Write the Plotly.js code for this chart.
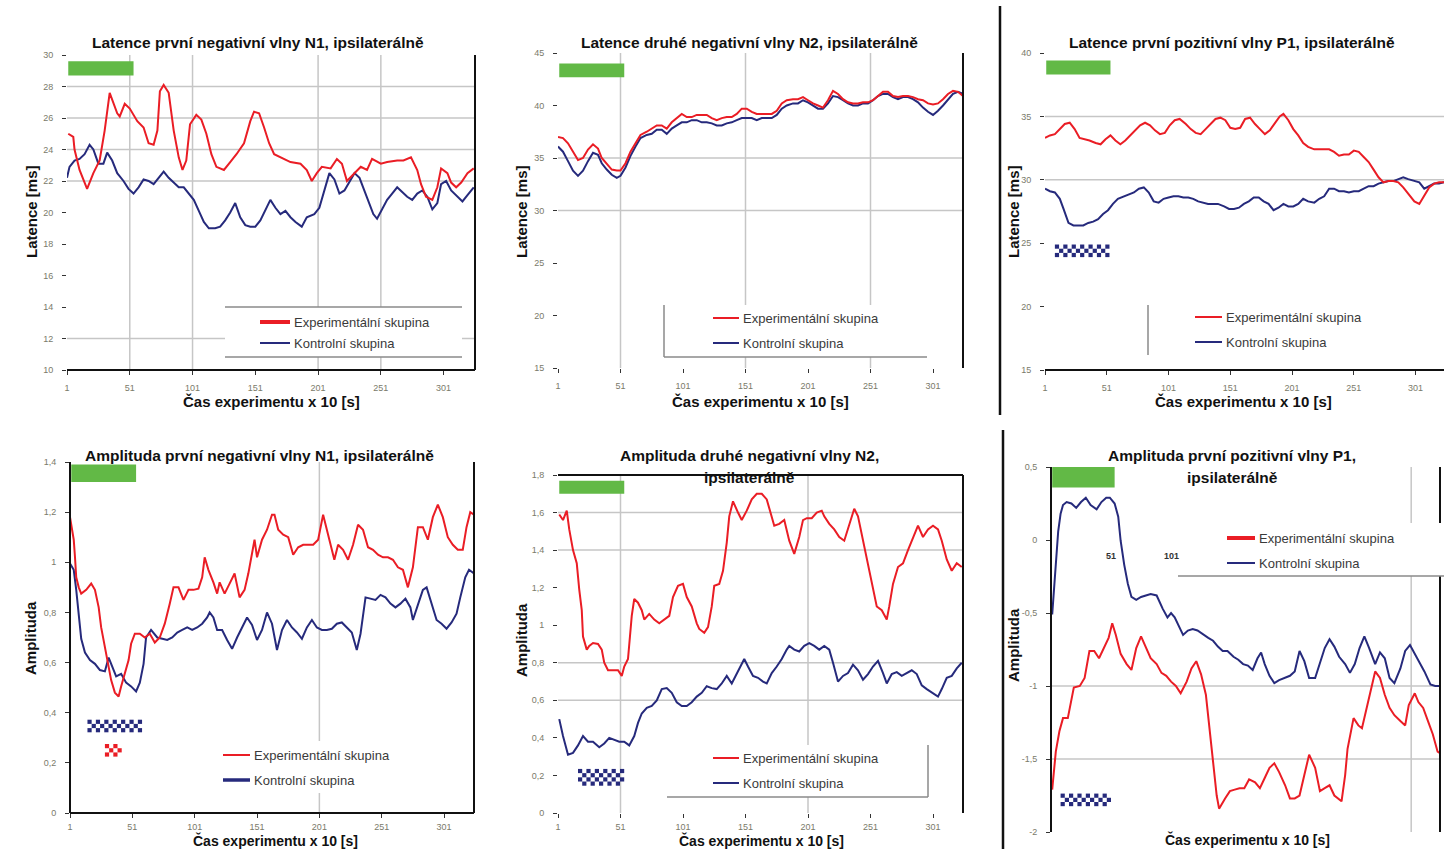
<!DOCTYPE html>
<html>
<head>
<meta charset="utf-8">
<script src="https://cdn.plot.ly/plotly-3.0.1.min.js"></script>
<style>
  html, body { margin: 0; padding: 0; background: #fff; }
  #plot { width: 1444px; height: 849px; }
</style>
</head>
<body>
<div id="plot"></div>
<script>
// ---- shared labels ----
const xTickVals = [1, 51, 101, 151, 201, 251, 301];
const xTickText = ['1', '51', '101', '151', '201', '251', '301'];
const legendLabels = ['Experimentální skupina', 'Kontrolní skupina'];
const xTitle = 'Čas experimentu x 10 [s]';
const stimRange = [2, 54];   // stimulation period (green bar)

// ---- latence N1 ----
const latN1Ticks = [10, 12, 14, 16, 18, 20, 22, 24, 26, 28, 30];
const latN1ExpX = [2,6,7,11,17,22,27,31,35,38,41,43,47,51,57,62,66,70,73,75,78,82,86,90,93,96,99,104,108,112,116,120,126,131,136,142,147,150,154,158,162,166,174,179,187,192,196,200,204,211,216,220,224,230,235,240,244,251,256,264,269,275,280,283,287,292,296,299,304,307,311,315,320,325];
const latN1ExpY = [25.0,24.8,24.0,22.7,21.5,22.5,23.3,25.2,27.6,27.0,26.3,26.1,26.9,26.6,25.8,25.4,24.4,24.3,25.2,27.7,28.1,27.6,25.2,23.5,22.7,23.3,25.6,26.2,25.9,25.0,23.7,22.9,22.7,23.2,23.7,24.4,25.8,26.4,26.3,25.4,24.4,23.7,23.4,23.2,23.1,22.7,22.0,22.5,22.9,22.8,23.4,23.1,22.0,22.5,22.9,22.7,23.4,23.1,23.2,23.3,23.3,23.5,22.7,21.8,21.0,20.8,21.6,22.8,22.5,21.9,21.6,21.9,22.5,22.8];
const latN1CtlX = [1,3,7,11,15,19,22,26,30,33,37,41,46,50,54,58,62,66,70,74,78,82,86,90,94,98,102,106,110,114,119,123,127,131,135,139,143,147,151,155,159,163,167,171,175,179,183,188,192,198,202,206,210,214,218,222,226,230,234,238,242,245,248,252,256,260,264,268,272,276,280,284,288,292,296,299,303,307,312,316,320,325];
const latN1CtlY = [22.2,22.9,23.3,23.4,23.7,24.3,24.0,23.1,23.1,23.8,23.3,22.5,22.0,21.5,21.2,21.6,22.1,22.0,21.8,22.2,22.6,22.2,21.9,21.6,21.6,21.2,20.8,20.1,19.4,19.0,19.0,19.1,19.5,20.0,20.6,19.7,19.2,19.1,19.1,19.5,20.1,20.8,20.3,19.9,20.1,19.7,19.4,19.1,19.7,19.9,20.3,21.4,22.5,22.1,21.2,21.4,22.0,22.5,22.2,21.4,20.6,19.9,19.6,20.2,20.8,21.2,21.6,21.3,21.0,20.8,21.2,21.4,21.0,20.2,20.6,21.8,22.0,21.4,21.0,20.7,21.1,21.6];

// ---- latence N2 ----
const latN2Ticks = [15, 20, 25, 30, 35, 40, 45];
const latN2X = [1,5,9,13,17,21,25,29,33,36,40,44,48,51,55,59,63,67,72,76,80,84,88,92,96,100,104,108,112,116,120,124,128,132,136,140,144,148,152,156,160,164,168,172,176,180,184,189,193,197,201,205,209,213,217,221,225,229,233,237,241,245,249,253,257,261,265,269,273,277,281,285,289,293,297,301,305,309,313,317,321,325];
const latN2ExpY = [37.0,36.9,36.4,35.6,34.8,35.0,35.8,36.3,35.9,35.0,34.4,33.9,33.8,33.8,34.5,35.6,36.4,37.2,37.5,37.8,38.1,38.1,37.8,38.4,38.8,39.2,38.9,38.9,39.1,39.1,39.1,38.8,38.6,38.8,38.9,38.9,39.2,39.7,39.7,39.4,39.2,39.2,39.2,39.2,39.5,40.2,40.5,40.6,40.6,40.8,40.5,40.2,40.0,39.8,40.5,41.4,41.1,40.6,40.3,40.2,40.2,40.3,40.3,40.5,40.9,41.3,41.3,40.9,40.8,40.9,40.9,40.8,40.6,40.5,40.2,40.1,40.2,40.6,41.1,41.4,41.3,40.9];
const latN2CtlY = [36.1,35.6,34.7,33.8,33.3,33.8,34.7,35.5,35.3,34.5,33.9,33.4,33.1,33.3,34.1,35.2,36.1,36.9,37.2,37.3,37.7,37.7,37.3,37.8,38.1,38.4,38.4,38.6,38.6,38.4,38.4,38.3,38.1,38.1,38.3,38.4,38.6,38.8,38.8,38.8,38.6,38.8,38.8,38.8,39.1,39.7,40.0,40.2,40.2,40.5,40.3,40.0,39.7,39.7,40.2,40.9,40.8,40.5,40.2,40.0,40.0,40.2,40.2,40.5,40.9,41.1,41.1,40.8,40.6,40.8,40.8,40.6,40.3,39.8,39.4,39.1,39.5,40.0,40.6,41.1,41.3,41.1];

// ---- latence P1 ----
const latP1Ticks = [15, 20, 25, 30, 35, 40];
const latP1ExpX = [1,5,9,13,17,21,25,29,33,37,42,46,50,54,58,62,66,70,74,78,82,86,90,94,98,102,106,110,115,119,123,127,131,135,139,143,147,151,155,159,163,167,171,175,179,183,187,191,194,198,202,206,210,214,219,223,227,231,235,239,243,247,251,255,259,263,267,271,275,279,283,287,291,295,300,304,308,312,316,320,324];
const latP1ExpY = [33.3,33.5,33.6,34.0,34.4,34.5,34.0,33.3,33.2,33.1,32.9,32.8,33.2,33.5,33.1,32.8,33.1,33.5,33.9,34.3,34.5,34.3,33.9,33.6,33.7,34.3,34.7,34.8,34.4,34.0,33.7,33.6,34.0,34.4,34.8,34.9,34.7,34.1,34.0,34.1,34.8,34.9,34.4,34.0,33.6,33.9,34.5,35.0,35.2,34.7,34.0,33.5,32.9,32.6,32.4,32.4,32.4,32.4,32.2,31.9,32.0,32.0,32.3,32.2,31.8,31.4,30.8,30.2,29.8,29.9,29.9,29.8,29.4,28.9,28.3,28.1,28.7,29.4,29.7,29.8,29.8];
const latP1CtlX = [1,5,9,13,16,20,24,28,32,36,40,44,48,52,56,60,65,69,73,77,81,85,89,93,97,101,105,109,113,117,121,125,129,133,137,141,146,150,154,158,162,166,170,174,178,182,186,190,194,198,202,206,210,214,219,223,227,231,235,239,243,247,251,255,259,263,267,271,275,279,283,287,291,295,300,304,308,312,316,320,324];
const latP1CtlY = [29.3,29.1,29.0,28.5,27.7,26.6,26.4,26.4,26.4,26.6,26.7,26.9,27.3,27.6,28.1,28.5,28.7,28.9,29.0,29.3,29.4,29.0,28.3,28.2,28.5,28.6,28.7,28.7,28.6,28.6,28.5,28.3,28.2,28.1,28.1,28.1,27.9,27.7,27.7,27.8,28.1,28.3,28.6,28.6,28.3,28.1,27.6,27.8,28.1,27.9,27.9,28.1,28.5,28.3,28.2,28.5,28.7,29.3,29.3,29.1,29.1,29.0,29.1,29.1,29.3,29.5,29.5,29.7,29.8,29.9,29.9,30.05,30.2,30.05,29.9,29.8,29.3,29.5,29.7,29.7,29.8];
const latP1CtlSig = [9, 54];

// ---- amplituda N1 ----
const ampN1Ticks = [0, 0.2, 0.4, 0.6, 0.8, 1, 1.2, 1.4];
const ampN1TickText = ['0', '0,2', '0,4', '0,6', '0,8', '1', '1,2', '1,4'];
const ampN1ExpX = [1,2,4,5,6,8,10,14,18,21,24,26,29,32,34,37,40,42,45,48,50,53,57,61,65,69,73,77,81,84,88,92,96,100,104,107,109,112,116,119,121,125,129,133,137,141,144,147,149,151,155,159,163,165,168,172,176,180,184,188,192,196,200,204,208,213,216,220,224,228,232,236,240,244,248,252,256,260,264,268,272,276,280,284,288,292,296,300,304,308,312,316,319,322,325];
const ampN1ExpY = [1.18,1.15,1.09,1.02,0.94,0.90,0.875,0.89,0.915,0.89,0.82,0.74,0.66,0.595,0.53,0.48,0.465,0.505,0.555,0.61,0.675,0.715,0.715,0.70,0.715,0.68,0.70,0.755,0.835,0.90,0.90,0.85,0.89,0.89,0.895,0.94,1.02,0.97,0.92,0.875,0.92,0.875,0.915,0.955,0.86,0.89,0.955,1.03,1.09,1.02,1.09,1.13,1.19,1.19,1.13,1.11,1.10,1.03,1.06,1.07,1.07,1.07,1.09,1.19,1.11,1.01,1.07,1.05,1.01,1.07,1.15,1.13,1.06,1.05,1.03,1.02,1.02,1.01,0.98,0.97,0.90,0.98,1.14,1.14,1.09,1.18,1.23,1.18,1.10,1.07,1.05,1.05,1.14,1.20,1.19];
const ampN1CtlX = [1,4,6,8,10,13,17,21,25,29,32,34,38,42,46,50,54,57,60,62,66,71,75,79,83,87,91,95,99,103,107,111,113,116,119,123,127,131,135,139,143,147,151,155,159,163,167,171,175,179,183,187,191,195,199,203,207,211,215,219,223,227,231,234,238,242,246,250,254,258,262,266,270,274,276,280,284,287,291,295,299,303,307,311,314,318,321,325];
const ampN1CtlY = [0.995,0.97,0.89,0.79,0.695,0.64,0.61,0.595,0.57,0.565,0.62,0.595,0.545,0.555,0.52,0.505,0.485,0.52,0.595,0.70,0.73,0.70,0.695,0.69,0.70,0.72,0.73,0.74,0.73,0.74,0.755,0.78,0.80,0.78,0.73,0.73,0.69,0.655,0.70,0.74,0.78,0.75,0.69,0.73,0.80,0.755,0.65,0.73,0.77,0.74,0.72,0.695,0.74,0.77,0.74,0.73,0.73,0.735,0.755,0.76,0.74,0.72,0.65,0.715,0.86,0.855,0.85,0.87,0.86,0.835,0.82,0.835,0.855,0.82,0.77,0.83,0.89,0.90,0.835,0.77,0.755,0.735,0.76,0.795,0.86,0.94,0.97,0.955];
const ampN1CtlSig = [15, 62];
const ampN1ExpSig = [29, 45];

// ---- amplituda N2 ----
const ampN2Ticks = [0, 0.2, 0.4, 0.6, 0.8, 1, 1.2, 1.4, 1.6, 1.8];
const ampN2TickText = ['0', '0,2', '0,4', '0,6', '0,8', '1', '1,2', '1,4', '1,6', '1,8'];
const ampN2ExpX = [2,5,8,10,13,16,18,20,21,24,26,29,33,36,38,41,45,49,52,54,57,60,62,65,68,70,74,78,82,86,90,93,97,101,104,108,112,114,118,121,124,126,130,133,136,138,141,145,148,152,156,160,164,168,172,174,178,182,186,190,194,197,200,204,208,212,214,218,222,226,230,234,238,241,245,249,252,256,260,264,266,269,273,277,281,285,289,293,297,301,305,308,312,316,320,324];
const ampN2ExpY = [1.59,1.56,1.61,1.51,1.40,1.33,1.19,1.08,0.94,0.87,0.89,0.905,0.90,0.87,0.80,0.76,0.76,0.76,0.73,0.78,0.82,1.05,1.14,1.12,1.08,1.03,1.06,1.03,1.01,1.03,1.05,1.15,1.21,1.22,1.15,1.10,1.01,0.98,0.96,0.99,1.10,1.21,1.22,1.29,1.44,1.58,1.66,1.60,1.56,1.61,1.67,1.70,1.70,1.67,1.58,1.53,1.54,1.56,1.45,1.38,1.47,1.56,1.57,1.57,1.60,1.61,1.58,1.54,1.51,1.47,1.45,1.54,1.62,1.58,1.45,1.33,1.22,1.10,1.08,1.03,1.10,1.22,1.31,1.33,1.40,1.47,1.53,1.47,1.51,1.53,1.51,1.45,1.35,1.29,1.33,1.31];
const ampN2CtlX = [2,5,9,13,17,21,25,29,34,38,42,46,50,54,58,62,65,68,72,76,80,84,88,92,96,100,104,108,112,116,120,124,128,132,136,140,144,148,150,153,157,161,165,168,172,176,180,184,186,190,194,198,202,206,210,214,218,221,225,229,233,237,241,245,249,253,257,261,264,268,272,276,280,284,288,292,296,300,305,308,312,316,320,324];
const ampN2CtlY = [0.50,0.41,0.31,0.32,0.36,0.41,0.38,0.38,0.35,0.37,0.40,0.39,0.38,0.38,0.36,0.41,0.48,0.53,0.56,0.57,0.60,0.66,0.665,0.64,0.59,0.57,0.57,0.59,0.62,0.64,0.675,0.665,0.66,0.69,0.73,0.69,0.745,0.80,0.82,0.78,0.73,0.72,0.70,0.69,0.745,0.78,0.82,0.87,0.89,0.87,0.86,0.89,0.905,0.89,0.87,0.89,0.87,0.80,0.70,0.73,0.745,0.79,0.76,0.71,0.74,0.78,0.81,0.745,0.69,0.74,0.75,0.73,0.745,0.76,0.74,0.68,0.66,0.64,0.62,0.66,0.72,0.73,0.77,0.80];
const ampN2CtlSig = [17, 55];

// ---- amplituda P1 ----
const ampP1Ticks = [-2, -1.5, -1, -0.5, 0, 0.5];
const ampP1TickText = ['-2', '-1,5', '-1', '-0,5', '0', '0,5'];
const ampP1ExpX = [2,4,5,8,11,15,18,20,25,29,33,37,41,45,49,52,55,59,64,68,72,76,80,84,89,93,97,101,105,109,114,118,122,126,130,133,136,139,141,146,150,154,158,162,166,171,175,179,183,187,191,196,200,204,208,212,216,221,225,229,233,237,243,246,248,253,257,260,264,268,271,275,279,283,287,292,296,299,304,307,311,315,319,323,325];
const ampP1ExpY = [-1.71,-1.54,-1.45,-1.31,-1.22,-1.22,-1.08,-1.01,-1.00,-0.945,-0.76,-0.76,-0.81,-0.74,-0.67,-0.57,-0.65,-0.78,-0.85,-0.89,-0.74,-0.66,-0.74,-0.81,-0.85,-0.91,-0.93,-0.97,-1.00,-1.05,-0.97,-0.88,-0.83,-0.92,-1.06,-1.27,-1.52,-1.75,-1.84,-1.77,-1.72,-1.71,-1.70,-1.70,-1.64,-1.66,-1.70,-1.63,-1.56,-1.53,-1.59,-1.68,-1.77,-1.77,-1.75,-1.61,-1.47,-1.56,-1.72,-1.70,-1.68,-1.75,-1.79,-1.61,-1.43,-1.22,-1.27,-1.29,-1.15,-0.99,-0.90,-0.945,-1.06,-1.15,-1.20,-1.24,-1.27,-1.13,-1.05,-1.11,-1.15,-1.24,-1.33,-1.45,-1.46];
const ampP1CtlX = [2,4,5,7,9,11,14,18,22,26,30,34,39,43,47,50,54,57,59,62,65,68,72,76,80,84,89,91,94,98,101,104,108,111,115,119,123,128,132,136,140,144,148,153,157,161,165,169,173,176,179,183,187,191,196,200,204,208,212,216,221,225,229,233,237,241,246,250,254,258,262,266,271,275,279,283,287,292,296,300,304,308,312,317,321,325];
const ampP1CtlY = [-0.51,-0.28,-0.12,0.06,0.18,0.24,0.26,0.25,0.22,0.26,0.29,0.24,0.21,0.26,0.29,0.29,0.25,0.16,-0.005,-0.17,-0.30,-0.39,-0.41,-0.39,-0.38,-0.37,-0.38,-0.42,-0.47,-0.53,-0.50,-0.53,-0.60,-0.65,-0.62,-0.61,-0.62,-0.65,-0.67,-0.69,-0.73,-0.76,-0.76,-0.80,-0.82,-0.85,-0.86,-0.89,-0.81,-0.77,-0.85,-0.93,-0.98,-0.96,-0.945,-0.93,-0.90,-0.76,-0.83,-0.945,-0.945,-0.85,-0.74,-0.68,-0.73,-0.80,-0.85,-0.91,-0.85,-0.74,-0.66,-0.74,-0.85,-0.77,-0.81,-0.945,-0.98,-0.88,-0.76,-0.72,-0.78,-0.84,-0.90,-0.99,-1.00,-1.00];
const ampP1CtlSig = [9, 53];

// ---- page geometry and styling ----
const W = 1444, H = 849;
const FONT = '"Liberation Sans", Arial, sans-serif';
const RED = '#ea1d25', BLUE = '#262a7c', GREEN = '#62b946', GRID = '#c6c6c6', INK = '#111';
const TITLE_SIZE = 15.5, AXIS_TITLE_SIZE = 15, LEGEND_SIZE = 13, TICK_SIZE = 9;

const panels = [
  { title: ['Latence první negativní vlny N1, ipsilaterálně'], tx: 258, ty: [42],
    px: [67, 475], py: [55, 370], xr: [1, 326], yr: [10, 30],
    yTicks: latN1Ticks, yTickText: latN1Ticks.map(String),
    yTitle: 'Latence [ms]', ytx: 31, yty: 212, xtx: 271, xty: 401, xtSize: AXIS_TITLE_SIZE,
    xLabels: true, xStandoff: 5,
    exp: [latN1ExpX, latN1ExpY], ctl: [latN1CtlX, latN1CtlY],
    hGrid: [12, 22, 24, 26, 28], vGrid: [51, 101, 201, 251],
    frame: ['bottom', 'right'], green: [28.7, 29.6], sig: [],
    leg: { box: [225, 462, 307, 357], borders: [[225, 307, 462, 307], [225, 357, 462, 357]],
           x0: 260, x1: 290, y: [322, 343], w: [4, 2] } },
  { title: ['Latence druhé negativní vlny N2, ipsilaterálně'], tx: 749, ty: [42],
    px: [558, 963], py: [53, 368], xr: [1, 325], yr: [15, 45],
    yTicks: latN2Ticks, yTickText: latN2Ticks.map(String),
    yTitle: 'Latence [ms]', ytx: 521, yty: 212, xtx: 760, xty: 401, xtSize: AXIS_TITLE_SIZE,
    xLabels: true, xStandoff: 5,
    exp: [latN2X, latN2ExpY], ctl: [latN2X, latN2CtlY],
    hGrid: [30, 35], vGrid: [51, 151, 251],
    frame: ['right'], green: [42.7, 44.0], sig: [],
    leg: { box: [664, 927, 305, 357], borders: [[664, 305, 664, 357], [664, 357, 927, 357]],
           x0: 713, x1: 739, y: [318, 343], w: [2, 2] } },
  { title: ['Latence první pozitivní vlny P1, ipsilaterálně'], tx: 1232, ty: [42],
    px: [1045, 1444], py: [53, 370], xr: [1, 324], yr: [15, 40],
    yTicks: latP1Ticks, yTickText: latP1Ticks.map(String),
    yTitle: 'Latence [ms]', ytx: 1013, yty: 212, xtx: 1243, xty: 401, xtSize: AXIS_TITLE_SIZE,
    xLabels: true, xStandoff: 5,
    exp: [latP1ExpX, latP1ExpY], ctl: [latP1CtlX, latP1CtlY],
    hGrid: [30, 35], vGrid: [],
    frame: ['bottom'], green: [38.3, 39.4],
    sig: [{ range: latP1CtlSig, y: 24.4, rows: 3, color: BLUE }],
    leg: { box: [1148, 1444, 305, 355], borders: [[1148, 305, 1148, 355]],
           x0: 1195, x1: 1222, y: [317, 342], w: [2, 2] } },
  { title: ['Amplituda první negativní vlny N1, ipsilaterálně'], tx: 259, ty: [455],
    px: [70, 474], py: [462, 813], xr: [1, 325], yr: [0, 1.4],
    yTicks: ampN1Ticks, yTickText: ampN1TickText,
    yTitle: 'Amplituda', ytx: 30, yty: 638, xtx: 275, xty: 840, xtSize: 14,
    xLabels: true, xStandoff: 1,
    exp: [ampN1ExpX, ampN1ExpY], ctl: [ampN1CtlX, ampN1CtlY],
    hGrid: [], vGrid: [201],
    frame: ['left', 'bottom', 'right'], green: [1.32, 1.39],
    sig: [{ range: ampN1CtlSig, y: 0.347, rows: 3, color: BLUE },
          { range: ampN1ExpSig, y: 0.25, rows: 3, color: RED }],
    leg: { box: [215, 410, 741, 793], borders: [],
           x0: 223, x1: 250, y: [755, 780], w: [2, 3.5] } },
  { title: ['Amplituda druhé negativní vlny N2,', 'ipsilaterálně'], tx: 749, ty: [455, 477],
    px: [558, 963], py: [475, 813], xr: [1, 325], yr: [0, 1.8],
    yTicks: ampN2Ticks, yTickText: ampN2TickText,
    yTitle: 'Amplituda', ytx: 521, yty: 640, xtx: 762, xty: 840, xtSize: 14,
    xLabels: true, xStandoff: 1,
    exp: [ampN2ExpX, ampN2ExpY], ctl: [ampN2CtlX, ampN2CtlY],
    hGrid: [0.6, 0.8, 1.4, 1.6], vGrid: [51, 201],
    frame: ['top', 'right'], green: [1.70, 1.77],
    sig: [{ range: ampN2CtlSig, y: 0.19, rows: 4, color: BLUE }],
    leg: { box: [667, 928, 745, 797], borders: [[928, 745, 928, 797], [667, 797, 928, 797]],
           x0: 713, x1: 739, y: [758, 783], w: [2, 2] } },
  { title: ['Amplituda první pozitivní vlny P1,', 'ipsilaterálně'], tx: 1232, ty: [455, 477],
    px: [1051, 1440], py: [467, 832], xr: [1, 325], yr: [-2, 0.5],
    yTicks: ampP1Ticks, yTickText: ampP1TickText,
    yTitle: 'Amplituda', ytx: 1013, yty: 645, xtx: 1247, xty: 839, xtSize: 14,
    xLabels: false, xStandoff: 1,
    exp: [ampP1ExpX, ampP1ExpY], ctl: [ampP1CtlX, ampP1CtlY],
    hGrid: [-1, -1.5], vGrid: [301],
    frame: ['left', 'right'], green: [0.36, 0.5],
    sig: [{ range: ampP1CtlSig, y: -1.78, rows: 3, color: BLUE }],
    leg: { box: [1178, 1444, 523, 576], borders: [[1178, 576, 1444, 576]],
           x0: 1227, x1: 1255, y: [538, 563], w: [4, 2] },
    strayLabels: [51, 101], strayY: 556 }
];

const fx = v => v / W;
const fy = v => 1 - v / H;

const traces = [];
const shapes = [];
const annotations = [];
const layout = {
  width: W, height: H, margin: { l: 0, r: 0, t: 0, b: 0 },
  paper_bgcolor: '#fff', plot_bgcolor: 'rgba(0,0,0,0)',
  showlegend: false, font: { family: FONT, color: INK }
};

function text(t, x, y, opts) {
  annotations.push(Object.assign({
    text: t, x: fx(x), y: fy(y), xref: 'paper', yref: 'paper',
    showarrow: false, xanchor: 'center', yanchor: 'middle',
    font: { family: FONT, size: TITLE_SIZE, color: INK, weight: 'bold' }
  }, opts || {}));
}
function paperLine(x0, y0, x1, y1, color, width, layer) {
  shapes.push({ type: 'line', xref: 'paper', yref: 'paper',
    x0: fx(x0), y0: fy(y0), x1: fx(x1), y1: fy(y1),
    line: { color: color, width: width }, layer: layer || 'above' });
}

panels.forEach((p, i) => {
  const s = i === 0 ? '' : String(i + 1);
  const xa = 'x' + s, ya = 'y' + s;
  const tickFont = { family: FONT, size: TICK_SIZE, color: '#7a7a6a' };

  layout['xaxis' + s] = {
    domain: [fx(p.px[0]), fx(p.px[1])], range: p.xr, anchor: ya,
    tickmode: 'array', tickvals: xTickVals, ticktext: xTickText,
    showticklabels: p.xLabels, ticks: p.xLabels ? 'outside' : '',
    ticklen: 4, tickwidth: 1, tickcolor: '#333', ticklabelstandoff: p.xStandoff,
    tickfont: tickFont, showgrid: false, zeroline: false, showline: false, fixedrange: true
  };
  layout['yaxis' + s] = {
    domain: [fy(p.py[1]), fy(p.py[0])], range: p.yr, anchor: xa,
    tickmode: 'array', tickvals: p.yTicks, ticktext: p.yTickText,
    ticks: 'outside', ticklen: 4, tickwidth: 1, tickcolor: '#333', ticklabelstandoff: 7,
    tickfont: tickFont, showgrid: false, zeroline: false, showline: false, fixedrange: true
  };

  // gridlines
  p.hGrid.forEach(v => shapes.push({ type: 'line', xref: xa + ' domain', yref: ya,
    x0: 0, x1: 1, y0: v, y1: v, line: { color: GRID, width: 1.5 }, layer: 'below' }));
  p.vGrid.forEach(v => shapes.push({ type: 'line', xref: xa, yref: ya + ' domain',
    x0: v, x1: v, y0: 0, y1: 1, line: { color: GRID, width: 1.5 }, layer: 'below' }));

  // frame lines
  const edge = { bottom: [0, 0, 1, 0], top: [0, 1, 1, 1], left: [0, 0, 0, 1], right: [1, 0, 1, 1] };
  p.frame.forEach(k => {
    const e = edge[k];
    shapes.push({ type: 'line', xref: xa + ' domain', yref: ya + ' domain',
      x0: e[0], y0: e[1], x1: e[2], y1: e[3], line: { color: INK, width: 2 }, layer: 'above' });
  });

  // stimulation bar
  shapes.push({ type: 'rect', xref: xa, yref: ya, x0: stimRange[0], x1: stimRange[1],
    y0: p.green[0], y1: p.green[1], fillcolor: GREEN, line: { width: 0 }, layer: 'above' });

  // series
  traces.push({ type: 'scatter', mode: 'lines', x: p.ctl[0], y: p.ctl[1], xaxis: xa, yaxis: ya,
    line: { color: BLUE, width: 2 }, hoverinfo: 'skip' });
  traces.push({ type: 'scatter', mode: 'lines', x: p.exp[0], y: p.exp[1], xaxis: xa, yaxis: ya,
    line: { color: RED, width: 2 }, hoverinfo: 'skip' });

  // significance bars drawn as a checker of small squares
  const xpx = (p.px[1] - p.px[0]) / (p.xr[1] - p.xr[0]);
  const ypx = (p.py[1] - p.py[0]) / (p.yr[1] - p.yr[0]);
  p.sig.forEach(g => {
    const cell = 4.2;
    const width = (g.range[1] - g.range[0]) * xpx;
    const cols = Math.floor(width / cell);
    const xs = [], ys = [];
    for (let r = 0; r < g.rows; r++) {
      for (let c = 0; c < cols; c++) {
        if ((r + c) % 2 !== 0) continue;
        xs.push(g.range[0] + (c + 0.5) * cell / xpx);
        ys.push(g.y + ((g.rows - 1) / 2 - r) * cell / ypx);
      }
    }
    traces.push({ type: 'scatter', mode: 'markers', x: xs, y: ys, xaxis: xa, yaxis: ya,
      marker: { symbol: 'square', size: cell, color: g.color, line: { width: 0 } }, hoverinfo: 'skip' });
  });

  // legend block
  const L = p.leg;
  shapes.push({ type: 'rect', xref: 'paper', yref: 'paper',
    x0: fx(L.box[0]), x1: fx(L.box[1]), y0: fy(L.box[3]), y1: fy(L.box[2]),
    fillcolor: '#fff', line: { width: 0 }, layer: 'above' });
  L.borders.forEach(b => paperLine(b[0], b[1], b[2], b[3], '#8a8a8a', 1.5));
  [RED, BLUE].forEach((c, k) => {
    paperLine(L.x0, L.y[k], L.x1, L.y[k], c, L.w[k]);
    text(legendLabels[k], L.x1 + 2, L.y[k], { xanchor: 'left',
      font: { family: FONT, size: LEGEND_SIZE, color: '#3a3a3a' } });
  });

  // titles
  p.title.forEach((t, k) => text(t, p.tx, p.ty[k]));
  text(xTitle, p.xtx, p.xty, { font: { family: FONT, size: p.xtSize, color: INK, weight: 'bold' } });
  text(p.yTitle, p.ytx, p.yty, { textangle: -90,
    font: { family: FONT, size: AXIS_TITLE_SIZE, color: INK, weight: 'bold' } });

  if (p.strayLabels) {
    p.strayLabels.forEach(v => annotations.push({ text: String(v), x: v, xref: xa,
      y: fy(p.strayY), yref: 'paper', showarrow: false, xanchor: 'center', yanchor: 'middle',
      font: { family: FONT, size: TICK_SIZE, color: '#333', weight: 'bold' } }));
  }
});

// panel separators
paperLine(1000, 6, 1000, 415, INK, 2.5);
paperLine(1003, 430, 1003, 849, INK, 2.5);

layout.shapes = shapes;
layout.annotations = annotations;

Plotly.newPlot('plot', traces, layout, { staticPlot: true, displayModeBar: false });
</script>
</body>
</html>
